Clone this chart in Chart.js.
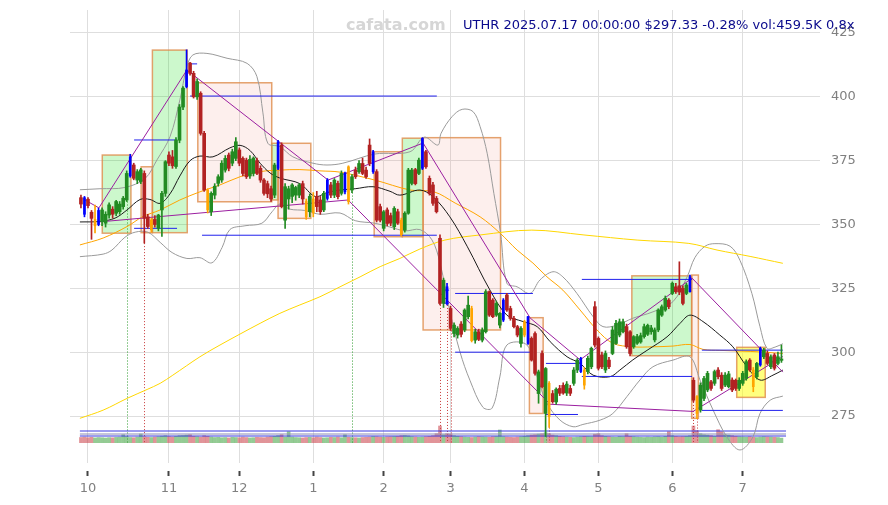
<!DOCTYPE html>
<html>
<head>
<meta charset="utf-8">
<script src="https://cdn.jsdelivr.net/npm/chart.js@4.4.1/dist/chart.umd.min.js"></script>
<style>
  html, body { margin: 0; padding: 0; background: #fff; }
  #wrap { position: relative; width: 888px; height: 505px; }
  #mark { position: absolute; left: 346px; top: 15px; font: bold 16px "DejaVu Sans"; color: #d6d6d6; white-space: nowrap; }
  #title { position: absolute; left: 463px; top: 17px; font: 13px "DejaVu Sans"; color: #0a0a8c; white-space: nowrap; }
</style>
</head>
<body>
<div id="wrap">
  <canvas id="chart" width="888" height="505"></canvas>
  <div id="mark">cafata.com</div>
  <div id="title">UTHR 2025.07.17 00:00:00 $297.33 -0.28% vol:459.5K 0.8x</div>
</div>
<script>
// 交易日序号：0 = 2024-10-01，第一根K线是 -2
const firstDay = -2;

// 月份刻度（交易日序号）和标签
const monthTicks = [0, 23, 43, 64, 84, 103, 124, 145, 166, 186];
const monthLabels = ['10', '11', '12', '1', '2', '3', '4', '5', '6', '7'];
const priceTicks = [275, 300, 325, 350, 375, 400, 425];

// 日K [开, 高, 低, 收]
const ohlc = [
  [360.5,361.5,356.5,358.0],[360.5,361.0,353.0,354.0],[359.9,360.5,356.5,357.4],[354.8,355.5,344.2,352.4],
  [349.5,357.6,346.7,352.0],[350.0,356.4,349.5,355.5],[351.1,356.5,349.5,355.7],[350.5,355.0,349.0,354.0],
  [353.7,358.5,352.5,357.7],[356.0,357.0,352.5,354.0],[354.4,359.5,353.5,359.0],[355.0,359.0,354.0,358.0],
  [357.0,361.0,356.0,360.3],[359.6,371.0,359.0,370.0],[369.0,377.5,368.5,376.5],[373.3,374.0,367.5,368.1],
  [367.4,371.5,366.0,370.7],[366.8,372.0,366.0,371.4],[370.0,371.0,342.7,352.4],[353.0,354.0,348.5,349.2],
  [347.9,352.5,347.0,351.8],[352.0,353.5,349.0,350.0],[348.5,354.0,347.5,353.7],[355.7,363.0,345.3,362.2],
  [362.2,375.0,361.0,374.6],[377.2,378.5,373.0,374.0],[376.5,379.0,372.0,373.0],[372.7,384.0,372.0,383.1],
  [383.0,397.0,382.0,396.0],[396.0,404.0,395.0,403.4],[404.0,418.4,403.5,410.5],[413.2,413.5,408.5,409.2],
  [409.2,410.0,399.5,400.0],[400.0,407.0,399.0,406.0],[401.4,402.0,385.0,385.7],[385.7,386.5,363.0,363.5],
  [363.5,364.0,354.5,355.7],[355.0,362.8,353.5,362.2],[361.5,366.0,360.0,365.0],[366.1,369.5,365.0,368.7],
  [367.4,375.0,366.5,374.0],[371.3,377.0,370.5,375.9],[377.2,378.0,371.0,372.0],[374.0,379.5,373.0,378.5],
  [375.9,384.0,375.0,382.4],[379.2,380.0,373.0,374.0],[375.9,376.5,369.0,370.0],[375.2,376.0,368.0,368.7],
  [369.0,377.0,368.0,375.5],[370.0,376.5,369.0,376.0],[375.0,376.0,369.5,370.0],[372.0,373.0,366.5,367.4],
  [367.4,368.0,361.5,362.2],[366.0,367.0,360.5,362.0],[364.0,365.0,359.0,360.0],[361.5,374.0,360.5,373.3],
  [372.0,383.0,371.5,382.4],[381.1,382.0,356.5,357.0],[351.7,366.0,348.5,364.8],[360.0,365.0,356.0,364.0],
  [361.0,366.0,358.5,365.5],[361.5,365.0,359.5,364.5],[361.5,366.0,360.5,365.5],[366.0,367.0,358.0,360.0],
  [359.0,360.0,352.0,353.0],[355.0,362.0,353.0,361.0],[360.0,362.5,353.0,354.5],[361.0,363.0,355.0,357.0],
  [359.6,361.0,354.0,355.0],[355.7,363.0,355.0,362.2],[360.2,368.0,359.5,367.4],[365.5,366.5,360.5,361.5],
  [361.5,368.0,360.5,367.4],[366.1,367.0,360.0,360.9],[362.2,371.0,361.5,370.0],[362.8,370.5,362.0,370.0],
  [372.6,373.0,358.0,359.0],[363.5,369.5,362.5,368.7],[371.3,372.5,368.0,368.7],[370.7,375.0,370.0,373.9],
  [373.9,376.0,369.5,370.0],[371.3,372.5,368.0,368.7],[381.1,383.5,373.0,373.9],[370.7,379.0,370.0,378.5],
  [370.7,371.5,351.0,351.7],[357.0,358.0,351.0,351.7],[348.5,355.5,347.5,355.0],[355.7,356.5,349.5,350.4],
  [353.5,354.5,349.5,350.5],[349.1,357.0,348.0,356.3],[355.0,356.0,350.0,350.5],[351.7,352.5,345.5,346.0],
  [347.8,355.0,347.0,354.4],[354.4,372.0,354.0,371.3],[366.1,372.0,365.5,371.3],[371.5,372.0,365.5,366.0],
  [370.0,376.0,369.5,375.2],[372.0,384.0,371.5,383.7],[378.5,379.0,372.0,372.6],[368.1,369.0,361.5,362.2],
  [365.5,366.5,357.5,358.3],[360.2,361.0,354.5,355.0],[344.6,346.0,318.5,319.1],[319.1,329.0,317.5,328.2],
  [325.6,327.0,318.5,319.1],[317.1,318.0,308.5,309.3],[307.3,311.5,306.0,310.6],[306.7,310.0,305.5,309.3],
  [311.0,312.0,306.0,307.0],[308.7,317.0,308.0,316.5],[313.9,322.0,313.0,318.4],[317.1,318.0,304.0,304.5],
  [304.7,309.0,303.5,308.0],[308.0,309.0,304.5,305.0],[304.7,309.5,304.0,308.7],[308.0,324.5,307.5,323.7],
  [323.7,324.0,314.0,314.5],[320.4,321.0,313.5,313.9],[314.5,320.0,314.0,319.1],[310.6,315.5,309.5,315.2],
  [312.6,321.0,312.0,320.4],[322.4,323.0,316.0,316.5],[317.1,318.0,312.5,313.2],[313.2,314.0,309.5,310.0],
  [310.0,310.5,306.0,306.7],[303.4,310.0,302.0,309.3],[306.7,312.5,306.0,311.9],[303.4,314.0,303.0,313.9],
  [305.4,306.0,296.5,296.9],[307.3,308.0,291.0,291.7],[283.8,293.0,280.0,292.3],[299.5,300.5,286.0,286.5],
  [276.0,294.0,267.0,293.6],[287.8,288.5,270.5,274.7],[283.8,285.0,280.0,280.6],[280.5,286.0,279.5,285.5],
  [285.8,287.0,283.0,283.9],[287.0,288.0,283.5,284.0],[284.0,288.5,283.0,287.5],[285.8,287.0,283.0,283.9],
  [287.8,294.0,287.0,293.0],[293.0,297.5,292.0,296.9],[292.4,298.0,292.0,297.6],[293.0,294.0,285.5,287.1],
  [292.4,298.5,291.5,297.6],[294.3,302.0,293.5,301.5],[317.8,319.8,302.0,302.8],[305.4,306.0,293.0,293.7],
  [298.9,300.0,293.5,294.3],[293.0,300.5,292.0,299.5],[296.9,298.0,293.5,294.3],[299.5,310.0,299.0,308.7],
  [303.4,312.5,303.0,311.3],[306.7,313.0,306.0,311.9],[308.0,313.0,307.5,311.9],[310.0,311.0,301.5,302.1],
  [308.0,308.5,298.5,299.5],[302.1,306.5,301.5,306.1],[303.5,307.0,303.0,306.1],[304.0,307.5,303.5,306.5],
  [306.1,311.0,305.5,310.0],[307.0,311.0,306.5,310.5],[308.0,310.5,307.0,309.5],[304.8,309.5,304.0,308.7],
  [308.7,317.0,308.0,316.5],[314.5,318.5,314.0,317.8],[316.5,322.0,316.0,321.1],[320.4,321.0,317.0,317.8],
  [323.0,327.5,322.5,327.0],[325.6,327.0,323.0,323.7],[326.0,335.4,322.5,323.5],[325.0,326.0,318.5,319.1],
  [323.0,327.0,322.5,326.3],[323.7,330.2,323.5,329.5],[289.0,290.0,280.5,281.2],[282.6,283.0,274.0,276.0],
  [277.3,288.0,276.5,287.1],[281.9,290.5,281.0,289.7],[285.2,292.5,284.5,291.7],[288.4,289.0,285.0,285.8],
  [287.8,293.0,287.0,292.4],[293.0,294.0,289.5,290.4],[291.0,292.0,285.0,285.8],[287.1,292.0,286.5,291.0],
  [286.5,292.5,286.0,291.5],[289.1,290.0,284.5,285.2],[289.0,289.5,285.0,285.8],[285.8,290.0,285.0,289.0],
  [287.8,292.5,287.0,291.7],[289.7,297.0,289.0,296.3],[296.9,297.5,292.5,293.0],[293.0,294.0,284.5,286.5],
  [290.4,296.0,289.5,295.6],[295.0,302.0,294.5,301.5],[298.2,301.5,297.5,300.8],[299.5,300.5,295.0,295.6],
  [294.3,299.0,293.5,298.2],[298.9,299.5,293.0,293.7],[295.6,300.0,295.0,298.2],[296.8,302.8,296.0,297.33]
];

// 成交量（千股）
const volumes = [
  520,560,500,540,480,520,500,470,510,490,530,560,800,620,520,500,560,870,600,540,
  520,560,600,650,700,620,580,640,700,720,760,800,640,600,560,700,640,560,520,540,
  500,520,480,540,520,500,560,520,480,500,540,520,500,560,600,640,700,800,560,1100,
  560,520,500,480,520,540,500,560,520,480,500,540,520,560,500,800,540,520,500,480,
  520,540,560,620,600,560,540,580,600,620,640,700,720,680,600,560,540,560,600,640,
  700,900,1670,800,900,860,700,640,600,560,540,520,560,600,580,560,540,600,620,1270,
  600,560,540,520,560,600,640,700,760,800,860,900,1000,900,760,700,640,600,560,540,
  520,560,600,640,620,600,850,900,700,640,600,560,540,620,600,900,640,600,560,540,
  520,560,540,580,600,560,640,1100,700,640,600,620,640,700,1670,1200,900,800,760,700,
  640,1300,1100,800,760,700,640,600,580,560,600,540,520,560,600,580,560,540,520,459.5
];
const volLevels = [[1170, '#3a3ae0'], [870, '#8c8cb4'], [670, '#3a3ae0']];

// 特殊标记的K线
const blueDays = [-1, 3, 12, 28, 54, 68, 73, 81, 95, 102, 118, 125, 140, 171, 191];
const orangeDays = [2, 18, 34, 62, 64, 74, 89, 109, 124, 131, 141, 173, 189];

// 均线与布林带 [交易日序号, 价格]
const ma20 = [[-2.3,351],[3.4,351.2],[7.7,352.5],[11.1,355.7],[14.8,359.8],[17.6,359.8],[20.5,358.3],[23.3,362],
  [26.1,369],[29,375],[31.8,376.8],[35.5,376.5],[40.3,380],[43.2,381],[46,379],[48.9,374],[51.7,370.2],[54.5,368.2],
  [60.2,366],[64.5,361],[67.9,362.5],[71.6,363.5],[75.9,364],[81,364.8],[85.8,363],[88.6,361.5],[94.3,363.5],
  [98,360.9],[102.8,353],[107.7,341.5],[114.2,324.3],[119,314.5],[123.6,312],[127.6,310],[131.3,304.1],[136.1,298.2],
  [139.8,295.6],[143.5,291],[148.3,290.4],[151.1,293],[154.8,297],[158.8,300.7],[164.5,306],[168.2,311.3],[171,314.5],
  [174.7,312],[179.5,306.7],[183.2,302.1],[187.2,294.3],[190.9,289.1],[194.6,291],[197.4,293]];
const ma50 = [[-2.3,342],[4.3,344.7],[11.1,349.2],[15.6,353.1],[20.5,355.7],[26.1,359.6],[31.8,362.8],[37.5,365.5],
  [43.2,368.7],[48.9,370.7],[54.5,371.3],[60.2,371.5],[65.9,371],[71.6,370.5],[81.5,367.4],[91.5,363.5],[98.3,362.8],
  [104.3,358.4],[111.4,353],[117,346.7],[121.9,340],[126.4,334.9],[130.4,329.5],[134.9,324.3],[139.8,316.5],
  [144.6,308.7],[149.1,303.5],[154.8,302.1],[160.5,302.1],[166.2,302.4],[171,303],[174.7,301.1],[179.5,300.7],
  [188.1,300.3],[197.4,299.5]];
const ma200 = [[-2.3,274.1],[4.3,277.3],[11.1,281.9],[16.8,285.4],[20.5,287.8],[24.1,291],[31.8,298.2],[37.5,302.8],
  [43.2,307.1],[48.9,311.3],[54.5,315.2],[60.2,318.5],[65.9,321.7],[71.6,325.6],[77.3,329.5],[83,333.5],[88.6,336.7],
  [94.3,340.4],[101.4,343.9],[111.4,345.9],[126.1,347.8],[140.9,345.9],[156,343.9],[170.7,342.6],[178.7,340],
  [188.1,337.5],[197.4,334.8]];
const bbUpper = [[-2.3,363.6],[3.4,364],[10.5,364.5],[16.2,368],[19.6,375.3],[23.3,384.4],[26.1,398.8],[28.1,411.8],
  [29.8,416.4],[33.8,417],[39.5,415.1],[45.2,413.1],[48,407.9],[49.7,393.7],[51.1,381.8],[54.5,380.5],[58.2,376.5],
  [63.9,374],[67.9,373.3],[72.4,374],[81.5,377.6],[91.5,378.5],[95.5,384.2],[99.4,381.1],[100.3,385.7],[103.4,392.2],
  [106.3,395.1],[109.4,394.2],[111.4,388.3],[113.4,377.9],[115.3,362.2],[117.2,346.7],[119,327],[121.9,325.6],
  [125.6,323],[128.4,328.3],[132.1,331.5],[134.9,329.5],[138.9,323],[143.5,313.9],[146.3,310],[150.3,310.6],
  [154.8,313.3],[160.5,315.8],[166.2,319.8],[170.2,329.5],[172.4,337],[175.3,341.5],[178.1,342.5],[182.4,341.5],
  [185.2,336],[188.6,323],[190.9,310],[192.9,301.5],[195.2,302],[197.4,303.3]];
const bbLower = [[-2.3,337.4],[4.3,338.4],[6.8,340],[10.5,345],[13.4,347],[17,347],[20.5,343],[23.9,339],[28.1,336.7],
  [31.8,337],[35.2,335],[38.1,341],[40.3,348],[44.6,349.5],[49.4,350.5],[52.3,355],[54.5,358],[57.4,356],[61.6,355.5],
  [65.9,354],[71.6,354.5],[75.9,351.5],[81.5,350.5],[85.8,349],[90.1,347.5],[94.3,348],[97.7,344],[100,335],
  [102.8,316],[105.7,300],[108.5,289],[112.2,278.4],[114.8,278.1],[117,290.3],[119,302.8],[124.7,302.8],[127.6,290.4],
  [130.4,280],[134.1,273.4],[137.8,270.8],[140.6,271.7],[145.5,273.4],[149.1,276],[153.1,282.6],[156.8,289.1],
  [160.5,294.3],[166.2,296.9],[171,298.2],[173.9,289],[177.6,277.3],[181.5,266.8],[185.2,261.7],[188.9,266.8],
  [190.9,276],[193.8,281.2],[197.4,282.8]];

// 折线（波段连线）
const zigzagA = [[-0.85,359.6],[3.1,356.5],[28.1,410.5],[68.2,367.4],[95.2,381.9],[125.6,313.4],[139.8,297],
  [171.6,329],[197.4,292.2]];
const zigzagB = [[3.1,351],[73.9,359.6],[131.3,279.6],[171.9,276.8],[197.4,298.3]];

// 支撑/阻力水平线 [起, 止, 价格]
const levels = [[28.7,31,412.9],[29,99.1,400.3],[13.1,25.3,383.1],[13.1,25.3,348.5],[32.4,99.1,345.8],
  [101,102.6,324.3],[101,102.6,319.2],[104.3,126.4,323],[104.3,126.4,300],[130.1,139.2,295.6],[130.1,139.2,275.6],
  [140.3,171.6,328.5],[140.3,171.6,290.5],[174.4,197.4,300.8],[174.4,197.4,277.2]];

// 方框 [起, 止, 低, 高, 类型]
const boxes = [[4.06,12.2,346.6,377.2,'g'],[15.1,18.3,346.8,372.6,'p'],[18.3,28.2,346.8,418.3,'g'],
  [31.2,52.2,358.9,405.5,'p'],[52.2,54,359.6,381.8,'g'],[54,63.3,352.4,381.8,'p'],[81.3,89.3,345.2,378.5,'p'],
  [89.3,95.2,345.2,383.8,'g'],[95.2,117.2,308.7,384,'p'],[125.4,129.3,276,313.5,'p'],[154.5,171.5,298.6,329.9,'g'],
  [171.5,173.4,274.1,330.2,'p'],[184.3,192.4,282.3,301.9,'y']];

// 虚线竖标记 [交易日序号, 颜色]
const markers = [[11,'g'],[16,'r'],[75,'g'],[100,'r'],[102,'r'],[103,'r'],[130,'r'],[131,'r'],[172,'r'],[173,'r']];

const boxFill = { g: 'rgba(0,220,0,0.2)', p: 'rgba(240,120,110,0.12)', y: 'rgba(255,255,0,0.5)' };

const days = ohlc.map((r, k) => firstDay + k);

function candleColor(k) {
  const d = days[k];
  if (blueDays.includes(d)) return '#0000ff';
  if (orangeDays.includes(d)) return '#ffa500';
  return ohlc[k][3] >= ohlc[k][0] ? '#228b22' : '#b22222';
}
const colors = ohlc.map((r, k) => candleColor(k));
const isSpecial = k => blueDays.includes(days[k]) || orangeDays.includes(days[k]);

function lineDs(points, color, order, tension) {
  return {
    type: 'line', data: points.map(p => ({ x: p[0], y: p[1] })),
    borderColor: color, borderWidth: 1, pointRadius: 0, tension: tension, fill: false, order: order
  };
}

const overlay = {
  id: 'overlay',
  beforeDatasetsDraw(chart) {
    const { ctx, scales: { x, y, y1 } } = chart;
    ctx.save();
    boxes.forEach(b => {
      const x0 = x.getPixelForValue(b[0]), x1 = x.getPixelForValue(b[1]);
      const top = y.getPixelForValue(b[3]), bot = y.getPixelForValue(b[2]);
      ctx.fillStyle = boxFill[b[4]];
      ctx.fillRect(x0, top, x1 - x0, bot - top);
      ctx.strokeStyle = 'rgba(222,140,75,0.8)';
      ctx.lineWidth = 1.5;
      ctx.strokeRect(x0, top, x1 - x0, bot - top);
    });
    const base = y1.getPixelForValue(0);
    ctx.lineWidth = 1;
    ctx.setLineDash([1, 2]);
    markers.forEach(m => {
      const k = m[0] - firstDay;
      const px = Math.round(x.getPixelForValue(m[0])) + 0.5;
      ctx.strokeStyle = m[1] === 'g' ? '#2e9b2e' : '#c83838';
      ctx.beginPath();
      ctx.moveTo(px, y.getPixelForValue(ohlc[k][2]));
      ctx.lineTo(px, base);
      ctx.stroke();
    });
    ctx.restore();
  }
};

Chart.defaults.font.family = '"DejaVu Sans"';

const datasets = [
  {
    type: 'bar', data: ohlc.map((r, k) => ({ x: days[k], y: [Math.min(r[0], r[3]), Math.max(r[0], r[3])] }))
      .filter((p, k) => !isSpecial(k)),
    backgroundColor: colors.filter((c, k) => !isSpecial(k)),
    barThickness: 3, minBarLength: 1, grouped: false, order: 1
  },
  {
    type: 'bar', data: ohlc.map((r, k) => ({ x: days[k], y: [Math.min(r[0], r[3]), Math.max(r[0], r[3])] }))
      .filter((p, k) => isSpecial(k)),
    backgroundColor: colors.filter((c, k) => isSpecial(k)),
    barThickness: 2, minBarLength: 1, grouped: false, order: 0
  },
  {
    type: 'bar', data: ohlc.map((r, k) => ({ x: days[k], y: [r[2], r[1]] })),
    backgroundColor: colors, barThickness: 1, grouped: false, order: 2
  },
  lineDs(ma20, '#1a1a1a', 4, 0.35),
  lineDs(ma50, '#ffa500', 4, 0.35),
  lineDs(ma200, '#ffd700', 4, 0.35),
  lineDs(bbUpper, '#9a9a9a', 5, 0.35),
  lineDs(bbLower, '#9a9a9a', 5, 0.35),
  lineDs(zigzagA, '#9b1fa0', 3, 0),
  lineDs(zigzagB, '#9b1fa0', 3, 0),
  {
    type: 'line', data: levels.flatMap(l => [{ x: l[0], y: l[2] }, { x: l[1], y: l[2] }, { x: l[1], y: null }]),
    borderColor: '#2020ee', borderWidth: 1, pointRadius: 0, spanGaps: false, order: 3
  },
  {
    type: 'bar', yAxisID: 'y1', data: volumes.map((v, k) => ({ x: days[k], y: v })),
    backgroundColor: ohlc.map(r => r[3] >= r[0] ? 'rgba(60,160,60,0.55)' : 'rgba(200,60,70,0.55)'),
    barThickness: 3, grouped: false, order: 8
  }
];
volLevels.forEach(v => {
  datasets.push({
    type: 'line', yAxisID: 'y1', data: [{ x: -2.3, y: v[0] }, { x: 198.3, y: v[0] }],
    borderColor: v[1], borderWidth: 1, pointRadius: 0, order: 7
  });
});

new Chart(document.getElementById('chart'), {
  type: 'bar',
  data: { datasets },
  plugins: [overlay],
  options: {
    responsive: false,
    animation: false,
    events: [],
    layout: { padding: { left: 70, top: 10, right: 0, bottom: 0 } },
    plugins: { legend: { display: false }, tooltip: { enabled: false } },
    scales: {
      x: {
        type: 'linear', min: -5.11, max: 205.68, offset: false,
        grid: { offset: false, color: '#dedede', tickColor: '#444', tickLength: 14, tickWidth: 2,
          tickBorderDash: [0, 8, 5, 100] },
        border: { display: false },
        afterBuildTicks: s => { s.ticks = monthTicks.map(v => ({ value: v })); },
        afterFit: s => { s.height = 42; s.paddingLeft = 0; s.paddingRight = 0; },
        ticks: { autoSkip: false, maxRotation: 0, color: '#808080', font: { size: 13 }, padding: 4,
          callback: (v, i) => monthLabels[i] }
      },
      y: {
        position: 'right', min: 256.6, max: 434.0,
        grid: { color: '#dedede', tickLength: 8 },
        border: { display: false },
        afterBuildTicks: s => { s.ticks = priceTicks.map(v => ({ value: v })); },
        afterFit: s => { s.width = 76; s.paddingTop = 0; s.paddingBottom = 0; },
        ticks: { color: '#808080', font: { size: 13 }, padding: 11 }
      },
      y1: { display: false, min: -2030, max: 43270 }
    }
  }
});
</script>
</body>
</html>
